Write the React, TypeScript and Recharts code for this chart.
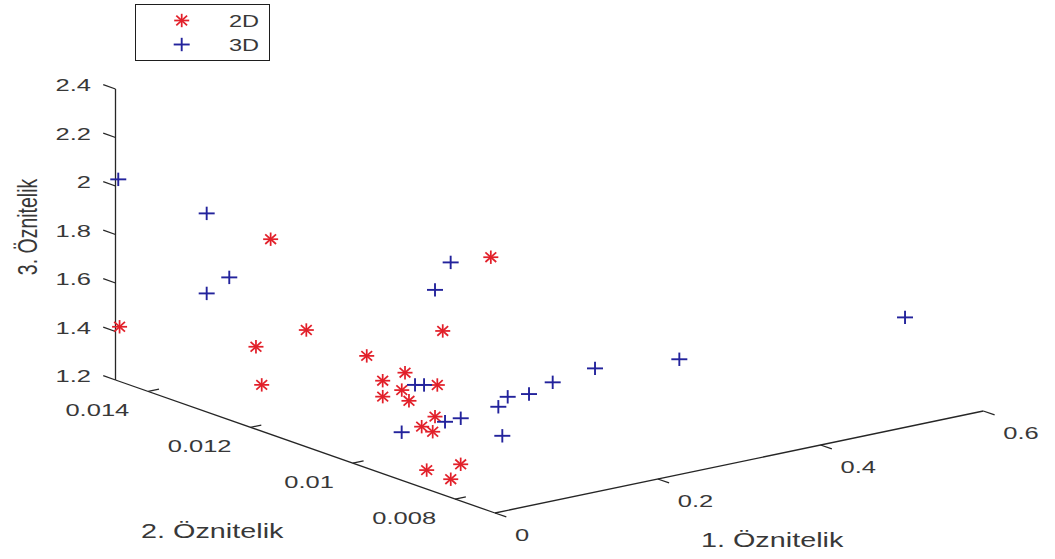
import React from 'react';
import { ScatterChart, Scatter, XAxis, YAxis, ReferenceLine, ReferenceDot, Legend } from 'recharts';

// ---------- data ----------
// 2D feature set: 1., 2. and 3. Öznitelik
const f1_2D = [0.005, 0.075, 0.157, 0.0937, 0.0821, 0.0326, 0.0988, 0.1482, 0.1207, 0.1184, 0.1164, 0.1167, 0.1436, 0.1067, 0.0633, 0.0469, 0.0416, 0.0257, 0.0342, 0.0135];
const f2_2D = [0.01464, 0.0128, 0.0098, 0.0124, 0.0132, 0.0123, 0.0113, 0.0106, 0.0109, 0.0113, 0.0102, 0.0109, 0.0117, 0.0106, 0.0094, 0.0094, 0.0091, 0.0083, 0.0091, 0.0083];
const f3_2D = [1.416, 1.864, 1.954, 1.506, 1.386, 1.33, 1.477, 1.597, 1.422, 1.361, 1.426, 1.353, 1.248, 1.338, 1.392, 1.362, 1.367, 1.303, 1.214, 1.25];

// 3D feature set
const f1_3D = [0.0034, 0.0404, 0.0493, 0.0404, 0.1328, 0.1387, 0.133, 0.1441, 0.2079, 0.1788, 0.1526, 0.1411, 0.0756, 0.0949, 0.0726, 0.058, 0.2599, 0.3635, 0.5717];
const f2_3D = [0.01464, 0.0135, 0.0132, 0.0135, 0.0102, 0.0106, 0.0109, 0.0109, 0.0094, 0.0094, 0.0094, 0.0094, 0.0094, 0.0094, 0.0102, 0.008, 0.0094, 0.0094, 0.0083];
const f3_3D = [2.025, 1.943, 1.695, 1.613, 1.92, 1.773, 1.363, 1.355, 1.432, 1.404, 1.411, 1.378, 1.362, 1.363, 1.262, 1.42, 1.453, 1.418, 1.526];

// axis limits and ticks
const X1_LIM = [0, 0.6];
const X2_LIM = [0.00722, 0.01464];
const X3_LIM = [1.2, 2.4];
const X1_TICKS = [0, 0.2, 0.4, 0.6];
const X1_LABELS = ['0', '0.2', '0.4', '0.6'];
const X2_TICKS = [0.008, 0.01, 0.012, 0.014];
const X2_LABELS = ['0.008', '0.01', '0.012', '0.014'];
const X3_TICKS = [1.2, 1.4, 1.6, 1.8, 2, 2.2, 2.4];
const X3_LABELS = ['1.2', '1.4', '1.6', '1.8', '2', '2.2', '2.4'];

// ---------- view (orthographic 3D projection onto the chart plane) ----------
const W = 1055;
const H = 559;
const VIEW = {
  origin: { x: 495, y: 513 },   // (x1 min, x2 min, x3 min)
  x1End: { x: 983.3, y: 411 },  // (x1 max, x2 min, x3 min)
  x2End: { x: 115.5, y: 380 },  // (x1 min, x2 max, x3 min)
  zSpan: 291,                   // vertical length of the x3 axis
};

function proj(x1: number, x2: number, x3: number) {
  const t1 = (x1 - X1_LIM[0]) / (X1_LIM[1] - X1_LIM[0]);
  const t2 = (x2 - X2_LIM[0]) / (X2_LIM[1] - X2_LIM[0]);
  const t3 = (x3 - X3_LIM[0]) / (X3_LIM[1] - X3_LIM[0]);
  const o = VIEW.origin;
  return {
    sx: o.x + t1 * (VIEW.x1End.x - o.x) + t2 * (VIEW.x2End.x - o.x),
    sy: o.y + t1 * (VIEW.x1End.y - o.y) + t2 * (VIEW.x2End.y - o.y) - t3 * VIEW.zSpan,
  };
}

const data2D = f1_2D.map((v, i) => proj(v, f2_2D[i], f3_2D[i]));
const data3D = f1_3D.map((v, i) => proj(v, f2_3D[i], f3_3D[i]));

const RED = '#e2202a';
const BLUE = '#23239c';
const AXIS = '#262626';
const TEXT = '#383838';
const FONT = '"Liberation Sans", Arial, Helvetica, sans-serif';

const Star = ({ cx, cy, color = RED }: any) => (
  <g stroke={color} strokeWidth={1.75} strokeLinecap="butt">
    <line x1={cx - 7.5} y1={cy} x2={cx + 7.5} y2={cy} />
    <line x1={cx} y1={cy - 6.7} x2={cx} y2={cy + 6.7} />
    <line x1={cx - 5.4} y1={cy - 4.8} x2={cx + 5.4} y2={cy + 4.8} />
    <line x1={cx - 5.4} y1={cy + 4.8} x2={cx + 5.4} y2={cy - 4.8} />
  </g>
);

const Plus = ({ cx, cy, color = BLUE }: any) => (
  <g stroke={color} strokeWidth={1.9}>
    <line x1={cx - 8} y1={cy} x2={cx + 8} y2={cy} />
    <line x1={cx} y1={cy - 6.7} x2={cx} y2={cy + 6.7} />
  </g>
);

const Txt = ({ x, y, anchor = 'middle', size = 17, stretch = 1.5, rotate = false, children }: any) => (
  <text
    transform={`translate(${x},${y}) scale(${stretch},1)${rotate ? ' rotate(-90)' : ''}`}
    textAnchor={anchor}
    dominantBaseline="central"
    fontFamily={FONT}
    fontSize={size}
    fill={TEXT}
  >
    {children}
  </text>
);

const seg = (a: { sx: number; sy: number }, b: { sx: number; sy: number }) => [
  { x: a.sx, y: a.sy },
  { x: b.sx, y: b.sy },
];
const off = (a: { sx: number; sy: number }, dx: number, dy: number) => ({ sx: a.sx + dx, sy: a.sy + dy });

// screen directions for tick marks
const O = proj(X1_LIM[0], X2_LIM[0], X3_LIM[0]);
const E1 = proj(X1_LIM[1], X2_LIM[0], X3_LIM[0]);
const E2 = proj(X1_LIM[0], X2_LIM[1], X3_LIM[0]);
const TOP = proj(X1_LIM[0], X2_LIM[1], X3_LIM[1]);
const unit = (a: any, b: any) => {
  const dx = b.sx - a.sx, dy = b.sy - a.sy, l = Math.hypot(dx, dy);
  return { x: dx / l, y: dy / l };
};
const d1 = unit(O, E1); // along +x1
const d2 = unit(O, E2); // along +x2

const LegendBox = (props: any) => {
  const payload = props.payload || [];
  return (
    <svg width={136} height={58} style={{ display: 'block' }}>
      <rect x={0.5} y={0.5} width={134} height={56} fill="#fff" stroke="#1e1e1e" strokeWidth={1} />
      {payload.map((p: any, i: number) => {
        const cy = 16.5 + i * 24;
        return (
          <g key={i}>
            {p.value === '2D' ? <Star cx={46.7} cy={cy} /> : <Plus cx={46.7} cy={cy} />}
            <Txt x={94} y={cy + 0.5} anchor="start" size={16} stretch={1.47}>{p.value}</Txt>
          </g>
        );
      })}
    </svg>
  );
};

export default function App() {
  const lines: any[] = [];
  const labels: any[] = [];

  // axis lines
  lines.push(seg(O, E1), seg(O, E2), seg(E2, TOP));

  // x3 (vertical) ticks
  X3_TICKS.forEach((v, i) => {
    const p = proj(X1_LIM[0], X2_LIM[1], v);
    lines.push(seg(p, off(p, d2.x * 13, d2.y * 13)));
    labels.push({ p, dx: -24.5, dy: -3.5, anchor: 'end', text: X3_LABELS[i] });
  });
  // x2 ticks
  X2_TICKS.forEach((v, i) => {
    const p = proj(X1_LIM[0], v, X3_LIM[0]);
    lines.push(seg(p, off(p, d1.x * 11, d1.y * 11)));
    labels.push({ p, dx: -19, dy: 19, anchor: 'end', text: X2_LABELS[i] });
  });
  // x1 ticks
  X1_TICKS.forEach((v, i) => {
    const p = proj(v, X2_LIM[0], X3_LIM[0]);
    lines.push(seg(p, off(p, -d2.x * 12, -d2.y * 12)));
    labels.push({ p, dx: 20, dy: 22, anchor: 'start', text: X1_LABELS[i] });
  });

  const mid1 = proj((X1_LIM[0] + X1_LIM[1]) / 2, X2_LIM[0], X3_LIM[0]);
  const mid2 = proj(X1_LIM[0], (X2_LIM[0] + X2_LIM[1]) / 2, X3_LIM[0]);
  const mid3 = proj(X1_LIM[0], X2_LIM[1], (X3_LIM[0] + X3_LIM[1]) / 2);

  return (
    <div style={{ position: 'absolute', left: 0, top: 0, background: '#fff' }}>
      <ScatterChart width={W} height={H} margin={{ top: 0, right: 0, bottom: 0, left: 0 }}>
        <XAxis type="number" dataKey="sx" domain={[0, W]} hide allowDataOverflow />
        <YAxis type="number" dataKey="sy" domain={[0, H]} reversed hide allowDataOverflow />
        {lines.map((s, i) => (
          <ReferenceLine key={'l' + i} segment={s} stroke={AXIS} strokeWidth={1.3} ifOverflow="visible" />
        ))}
        {labels.map((l, i) => (
          <ReferenceDot
            key={'t' + i}
            x={l.p.sx}
            y={l.p.sy}
            r={1}
            ifOverflow="visible"
            shape={(props: any) => (
              <Txt x={props.cx + l.dx} y={props.cy + l.dy} anchor={l.anchor}>{l.text}</Txt>
            )}
          />
        ))}
        <ReferenceDot x={mid1.sx} y={mid1.sy} r={1} ifOverflow="visible"
          shape={(p: any) => <Txt x={p.cx + 33} y={p.cy + 78} size={20} stretch={1.44}>1. Öznitelik</Txt>} />
        <ReferenceDot x={mid2.sx} y={mid2.sy} r={1} ifOverflow="visible"
          shape={(p: any) => <Txt x={p.cx - 93} y={p.cy + 85} size={20} stretch={1.44}>2. Öznitelik</Txt>} />
        <ReferenceDot x={mid3.sx} y={mid3.sy} r={1} ifOverflow="visible"
          shape={(p: any) => <Txt x={p.cx - 88.5} y={p.cy - 7.5} size={19.5} stretch={1.44} rotate>3. Öznitelik</Txt>} />
        <Scatter name="2D" data={data2D} fill={RED} isAnimationActive={false}
          shape={(p: any) => <Star cx={p.cx} cy={p.cy} />} />
        <Scatter name="3D" data={data3D} fill={BLUE} isAnimationActive={false}
          shape={(p: any) => <Plus cx={p.cx} cy={p.cy} />} />
        <Legend
          layout="horizontal"
          verticalAlign="middle"
          align="center"
          content={<LegendBox />}
          wrapperStyle={{ position: 'absolute', left: 135, top: 4, width: 136, height: 58, margin: 0, padding: 0 }}
        />
      </ScatterChart>
    </div>
  );
}
